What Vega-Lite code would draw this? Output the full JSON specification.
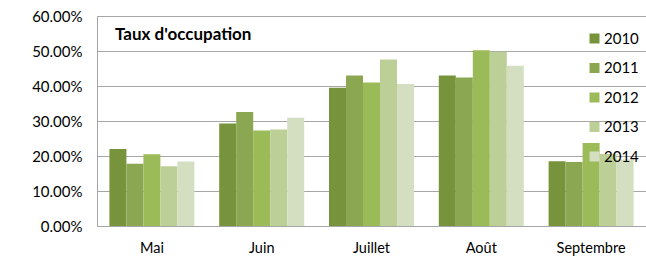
{
  "$schema": "https://vega.github.io/schema/vega-lite/v6.json",
  "autosize": "none",
  "width": 549,
  "height": 210,
  "padding": {"left": 97, "top": 16, "right": 0, "bottom": 34},
  "background": "white",
  "title": {
    "text": "Taux d'occupation",
    "orient": "none",
    "anchor": "start",
    "frame": "group",
    "font": "Lato",
    "fontSize": 17,
    "fontWeight": "bold",
    "color": "#000000",
    "baseline": "middle",
    "offset": 0,
    "dy": 19,
    "dx": 18
  },
  "data": {
    "values": [
      {"mois": "Mai", "annee": "2010", "taux": 0.220},
      {"mois": "Mai", "annee": "2011", "taux": 0.178},
      {"mois": "Mai", "annee": "2012", "taux": 0.205},
      {"mois": "Mai", "annee": "2013", "taux": 0.171},
      {"mois": "Mai", "annee": "2014", "taux": 0.184},
      {"mois": "Juin", "annee": "2010", "taux": 0.293},
      {"mois": "Juin", "annee": "2011", "taux": 0.326},
      {"mois": "Juin", "annee": "2012", "taux": 0.273},
      {"mois": "Juin", "annee": "2013", "taux": 0.276},
      {"mois": "Juin", "annee": "2014", "taux": 0.309},
      {"mois": "Juillet", "annee": "2010", "taux": 0.395},
      {"mois": "Juillet", "annee": "2011", "taux": 0.430},
      {"mois": "Juillet", "annee": "2012", "taux": 0.410},
      {"mois": "Juillet", "annee": "2013", "taux": 0.476},
      {"mois": "Juillet", "annee": "2014", "taux": 0.406},
      {"mois": "Août", "annee": "2010", "taux": 0.430},
      {"mois": "Août", "annee": "2011", "taux": 0.424},
      {"mois": "Août", "annee": "2012", "taux": 0.502},
      {"mois": "Août", "annee": "2013", "taux": 0.498},
      {"mois": "Août", "annee": "2014", "taux": 0.458},
      {"mois": "Septembre", "annee": "2010", "taux": 0.185},
      {"mois": "Septembre", "annee": "2011", "taux": 0.183},
      {"mois": "Septembre", "annee": "2012", "taux": 0.237},
      {"mois": "Septembre", "annee": "2013", "taux": 0.206},
      {"mois": "Septembre", "annee": "2014", "taux": 0.190}
    ]
  },
  "mark": {"type": "bar", "stroke": null},
  "encoding": {
    "x": {
      "field": "mois",
      "type": "nominal",
      "sort": ["Mai", "Juin", "Juillet", "Août", "Septembre"],
      "scale": {"paddingInner": 0.226, "paddingOuter": 0.113},
      "axis": {
        "title": null,
        "labelAngle": 0,
        "labelFont": "Lato",
        "labelFontSize": 14.5,
        "labelColor": "#000000",
        "labelPadding": 15,
        "ticks": false,
        "domain": true,
        "domainColor": "#a6a6a6",
        "grid": false
      }
    },
    "xOffset": {
      "field": "annee",
      "type": "nominal",
      "scale": {"paddingInner": 0, "paddingOuter": 0}
    },
    "y": {
      "field": "taux",
      "type": "quantitative",
      "scale": {"domain": [0, 0.6], "nice": false},
      "axis": {
        "title": null,
        "format": ".2%",
        "values": [0, 0.1, 0.2, 0.3, 0.4, 0.5, 0.6],
        "labelFont": "Lato",
        "labelFontSize": 15,
        "labelColor": "#000000",
        "labelPadding": 15,
        "ticks": false,
        "domain": false,
        "grid": true,
        "gridColor": "#a6a6a6",
        "gridOpacity": 1
      }
    },
    "color": {
      "field": "annee",
      "type": "nominal",
      "scale": {
        "domain": ["2010", "2011", "2012", "2013", "2014"],
        "range": ["#77933c", "#8ba751", "#9bbb59", "#bbcf96", "#d4dfc1"]
      },
      "legend": {
        "title": null,
        "orient": "none",
        "legendX": 490,
        "legendY": 15,
        "padding": 0,
        "symbolType": "square",
        "symbolSize": 100,
        "symbolStrokeWidth": 0,
        "labelFont": "Lato",
        "labelFontSize": 15,
        "labelColor": "#000000",
        "labelOffset": 2,
        "rowPadding": 13.5
      }
    }
  },
  "config": {
    "view": {"stroke": "#a6a6a6", "strokeWidth": 1},
    "axis": {"labelFontWeight": "normal"}
  }
}
